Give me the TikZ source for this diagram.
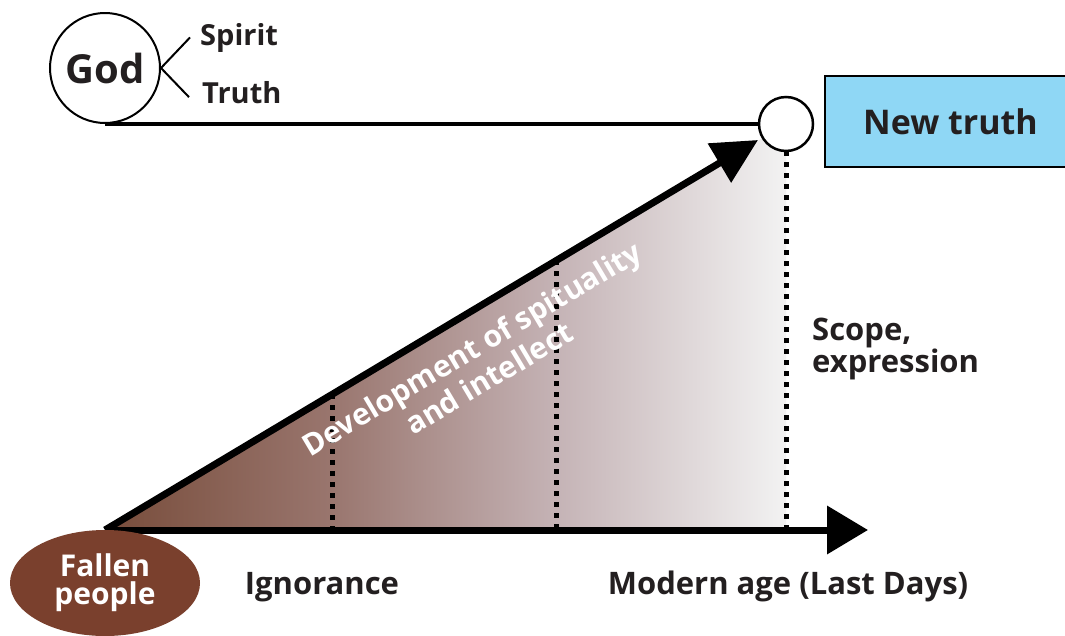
\documentclass[tikz,border=0pt]{standalone}
\usepackage{fontspec}
\setmainfont{Open Sans}
\usetikzlibrary{arrows.meta,shapes.geometric}

\definecolor{ink}{RGB}{35,31,32}
\definecolor{fallenbrown}{RGB}{122,64,45}
\definecolor{truthblue}{RGB}{143,215,245}
\pgfdeclarehorizontalshading{growth}{100bp}{rgb(0bp)=(0.47,0.30,0.23); rgb(25bp)=(0.47,0.30,0.23); rgb(41.5bp)=(0.60,0.46,0.43); rgb(58bp)=(0.77,0.70,0.71); rgb(75bp)=(0.95,0.95,0.95); rgb(100bp)=(0.95,0.95,0.95)}

\begin{document}
\begin{tikzpicture}[x=1pt,y=-1pt,
		txt/.style={text=ink,inner sep=0pt,font=\fontsize{31}{32}\selectfont\bfseries},
		bold line/.style={line width=7pt},
		dots/.style={line width=5pt,dash pattern=on 5pt off 6pt}]
		\useasboundingbox (0,0) rectangle (1065,635);
		\node[circle,draw,line width=2pt,minimum size=110pt,inner sep=0pt,text=ink,font=\fontsize{40}{40}\selectfont\bfseries] (god) at (105,68) {God};
		\node[txt,anchor=base west,font=\fontsize{29}{29}\selectfont\bfseries] (spirit) at (200,45) {Spirit};
		\node[txt,anchor=base west,font=\fontsize{29}{29}\selectfont\bfseries] (truth) at (202,103) {Truth};
		\draw[line width=2pt] (god.east) -- ([xshift=-10pt]spirit.west);
		\draw[line width=2pt] (god.east) -- ([xshift=-13pt,yshift=-5pt]truth.west);
		\node[draw,fill=truthblue,line width=2pt,anchor=north west,minimum width=246pt,minimum height=91pt,text=ink,font=\fontsize{34}{34}\selectfont\bfseries] (newtruth) at (824,75) {\hspace*{5pt}New truth};
		\coordinate (start) at (105,530);
		\coordinate (tip) at (758,140);
		\coordinate (end) at (868,530);
		\node[circle,minimum size=54pt] (now) at (786,124) {};
		\shade[shading=growth] (start) -- (start -| now) -- (now.center) -- cycle;
		\path (start) -- (tip) coordinate[pos=0.348] (q1) coordinate[pos=0.692] (q2);
		\draw[dots] (q1) -- (q1 |- start);
		\draw[dots] (q2) -- (q2 |- start);
		\draw[dots] (now.south) -- (now.south |- start);
		\draw[line width=4pt] (god.south) -- (now.west);
		\node[circle,draw,fill=white,line width=2.5pt,minimum size=54pt,inner sep=0pt] at (now) {};
		\draw[bold line,-{Triangle[length=45pt,width=44pt]}] (start) -- (tip);
		\draw[bold line,-{Triangle[length=41pt,width=47pt]}] (start) -- (end);
		\node[rotate=30.8,text=white,align=center,font=\fontsize{30}{34}\selectfont\bfseries] (devel) at (480,363) {Development of spituality\\and intellect};
		\node[ellipse,fill=fallenbrown,minimum width=190pt,minimum height=106pt,inner sep=0pt,text=white,align=center,font=\fontsize{30}{28}\selectfont\bfseries] (fallen) at (105,583) {Fallen\\people};
		\node[txt,anchor=base] (ignorance) at (322,594) {Ignorance};
		\node[txt,anchor=base] (modern) at (788,594) {Modern age (Last Days)};
		\node[txt,anchor=base west] (scope) at (812,340) {Scope,};
		\node[txt,anchor=base west] (expression) at (812,372) {expression};
	\end{tikzpicture}
\end{document}
